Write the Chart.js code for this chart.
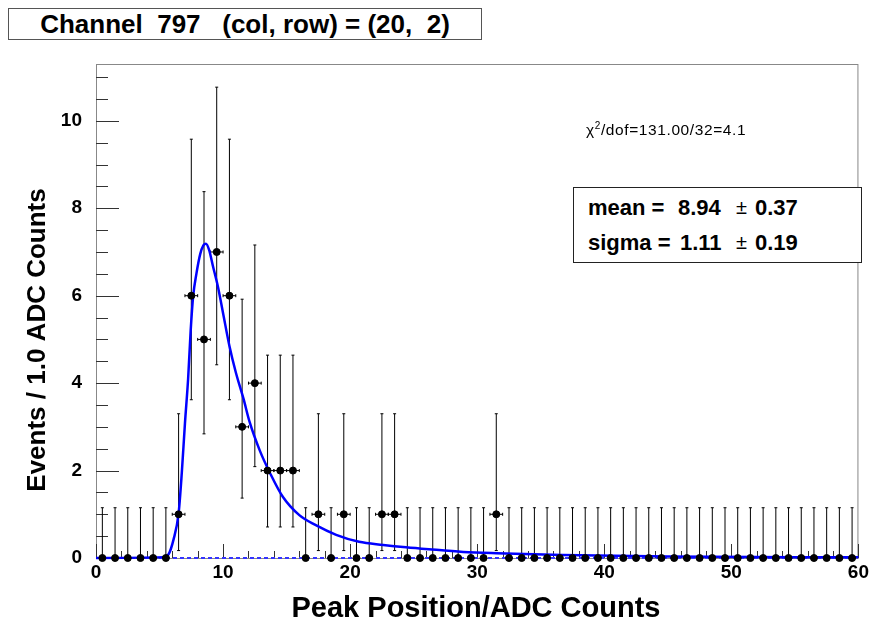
<!DOCTYPE html>
<html lang="en">
<head>
<meta charset="UTF-8">
<title>Channel 797</title>
<script src="https://cdn.jsdelivr.net/npm/chart.js"></script>
<style>
    body { margin: 0; background: #fff; font-family: "Liberation Sans", Arial, sans-serif; }
    #wrap { position: relative; width: 872px; height: 623px; }
    #grafico { position: absolute; left: 0; top: 0; }
    .caixa { position: absolute; background: #fff; box-sizing: border-box; white-space: pre; color: #000; }
    #titulo { left: 8px; top: 8px; width: 474px; height: 32px; border: 1px solid #555;
        font-weight: bold; font-size: 26px; line-height: 30px; text-align: center; }
    #chi { left: 586px; top: 120px; font-size: 15.5px; letter-spacing: 0.6px; background: transparent; }
    #chi sup { font-size: 10px; }
    #stats { left: 573px; top: 187px; width: 289px; height: 76px; border: 1px solid #222;
        font-weight: bold; font-size: 22px; padding-top: 2px; white-space: normal; }
    .lin { position: relative; height: 35px; line-height: 35px; }
    .lin span { position: absolute; top: 0; white-space: pre; }
    .lin .pm { font-weight: normal; font-size: 20px; }
</style>
</head>
<body>
<div id="wrap">
    <canvas id="grafico" width="872" height="623"></canvas>
    <div class="caixa" id="titulo">Channel  797   (col, row) = (20,  2)</div>
    <div class="caixa" id="chi">&chi;<sup>2</sup>/dof=131.00/32=4.1</div>
    <div class="caixa" id="stats">
        <div class="lin"><span style="left:14px">mean =</span><span style="left:104px">8.94</span><span class="pm" style="left:162px">&plusmn;</span><span style="left:181px">0.37</span></div>
        <div class="lin"><span style="left:14px">sigma =</span><span style="left:106px">1.11</span><span class="pm" style="left:162px">&plusmn;</span><span style="left:181px">0.19</span></div>
    </div>
</div>

<script>
    // bin centres (1 ADC count wide) and counts
    const binCentres = [];
    for (let i = 0; i < 60; i++) binCentres.push(i + 0.5);
    const counts = [
        0, 0, 0, 0, 0, 0, 1, 6, 5, 7,
        6, 3, 4, 2, 2, 2, 0, 1, 0, 1,
        0, 0, 1, 1, 0, 0, 0, 0, 0, 0,
        0, 1, 0, 0, 0, 0, 0, 0, 0, 0,
        0, 0, 0, 0, 0, 0, 0, 0, 0, 0,
        0, 0, 0, 0, 0, 0, 0, 0, 0, 0
    ];
    // asymmetric poisson errors, indexed by count
    const errLow  = [0, 0.83, 1.29, 1.63, 1.91, 2.16, 2.38, 2.58];
    const errHigh = [1.15, 2.30, 2.64, 2.92, 3.16, 3.38, 3.58, 3.77];

    // fit curve
    const fitX = [0, 5.3, 5.7, 6.1, 6.5, 6.75, 7.0, 7.25, 7.45, 7.65, 7.9, 8.2, 8.45, 8.65, 8.9, 9.2, 9.6, 10.0,
        10.5, 11.0, 11.6, 12.1, 12.9, 13.7, 14.7, 16.0, 17.3, 18.9, 20.7, 22.6, 24.4, 26.2, 28.9, 31.5, 36.7, 45, 60];
    const fitY = [0, 0.02, 0.08, 0.42, 1.02, 1.94, 3.08, 4.1, 5.2, 6.0, 6.5, 6.95, 7.15, 7.19, 7.05, 6.68, 6.2, 5.6,
        4.85, 4.25, 3.65, 3.1, 2.45, 1.94, 1.4, 0.98, 0.75, 0.53, 0.37, 0.3, 0.245, 0.2, 0.14, 0.11, 0.07, 0.035, 0.015];

    // dashed background component
    const bgX = [0, 60];
    const bgY = [0, 0];

    const xTicks = [0, 10, 20, 30, 40, 50, 60];
    const yTicks = [0, 2, 4, 6, 8, 10];

    const fonte = '"Liberation Sans", Arial, sans-serif';

    const pontos = binCentres.map((x, i) => ({ x: x, y: counts[i] }));
    const curva = fitX.map((x, i) => ({ x: x, y: fitY[i] }));
    const fundo = bgX.map((x, i) => ({ x: x, y: bgY[i] }));

    // frame, inward ticks, error bars and axis titles
    const rootPlugin = {
        id: 'rootStyle',
        beforeDatasetsDraw(chart) {
            const c = chart.ctx, a = chart.chartArea, sx = chart.scales.x, sy = chart.scales.y;
            c.save();
            c.strokeStyle = '#888';
            c.lineWidth = 1;
            c.strokeRect(a.left + 0.5, a.top + 0.5, a.right - a.left - 1, a.bottom - a.top);
            c.strokeStyle = '#333';
            c.beginPath();
            for (let v = 0; v <= 60; v += 2) {
                const px = Math.round(sx.getPixelForValue(v)) + 0.5;
                const len = v % 10 === 0 ? 14 : 7;
                c.moveTo(px, a.bottom); c.lineTo(px, a.bottom - len);
            }
            for (let v = 0; v <= 11.01; v += 0.5) {
                const py = Math.round(sy.getPixelForValue(v)) + 0.5;
                const len = v % 2 === 0 ? 23 : 12;
                c.moveTo(a.left, py); c.lineTo(a.left + len, py);
            }
            c.stroke();

            c.strokeStyle = '#000';
            binCentres.forEach((x, i) => {
                const n = counts[i];
                const px = sx.getPixelForValue(x);
                const yLo = sy.getPixelForValue(n - errLow[n]);
                const yHi = sy.getPixelForValue(n + errHigh[n]);
                const py = sy.getPixelForValue(n);
                const xl = sx.getPixelForValue(x - 0.5), xr = sx.getPixelForValue(x + 0.5);
                c.beginPath();
                c.moveTo(px, yLo); c.lineTo(px, yHi);
                c.moveTo(px - 1.5, yHi); c.lineTo(px + 1.5, yHi);
                if (n > 0) {
                    c.moveTo(px - 1.5, yLo); c.lineTo(px + 1.5, yLo);
                    c.moveTo(xl, py); c.lineTo(xr, py);
                    c.moveTo(xl, py - 1.5); c.lineTo(xl, py + 1.5);
                    c.moveTo(xr, py - 1.5); c.lineTo(xr, py + 1.5);
                }
                c.stroke();
            });
            c.restore();
        },
        afterDraw(chart) {
            const c = chart.ctx;
            c.save();
            c.fillStyle = '#000';
            c.font = 'bold 29px ' + fonte;
            c.textAlign = 'center';
            c.textBaseline = 'alphabetic';
            c.fillText('Peak Position/ADC Counts', 476, 617);
            c.translate(45, 340);
            c.rotate(-Math.PI / 2);
            c.font = 'bold 26px ' + fonte;
            c.fillText('Events / 1.0 ADC Counts', 0, 0);
            c.restore();
        }
    };

    const ctx = document.getElementById('grafico').getContext('2d');

    const grafico = new Chart(ctx, {
        type: 'scatter',
        data: {
            datasets: [{
                label: 'dados',
                data: pontos,
                backgroundColor: '#000',
                borderColor: '#000',
                pointRadius: 3.5,
                pointHoverRadius: 3.5,
                clip: false,
                order: 0
            }, {
                label: 'ajuste',
                type: 'line',
                data: curva,
                borderColor: '#0000ff',
                borderWidth: 2.5,
                pointRadius: 0,
                fill: false,
                clip: false,
                cubicInterpolationMode: 'monotone',
                order: 1
            }, {
                label: 'fundo',
                type: 'line',
                data: fundo,
                borderColor: '#3333ff',
                borderWidth: 2,
                borderDash: [4, 3],
                pointRadius: 0,
                fill: false,
                clip: false,
                order: 2
            }]
        },
        options: {
            responsive: false,
            animation: false,
            events: [],
            layout: { padding: { left: 0, top: 64, right: 11, bottom: 0 } },
            plugins: {
                legend: { display: false },
                title: { display: false },
                tooltip: { enabled: false }
            },
            scales: {
                x: {
                    type: 'linear',
                    min: 0,
                    max: 60,
                    afterBuildTicks: (s) => { s.ticks = xTicks.map(v => ({ value: v })); },
                    afterFit: (s) => { s.height = 65; },
                    grid: { display: false, drawTicks: false },
                    border: { display: false },
                    ticks: {
                        color: '#000',
                        padding: 3,
                        maxRotation: 0,
                        font: { family: fonte, size: 19, weight: 'bold' }
                    }
                },
                y: {
                    type: 'linear',
                    min: 0,
                    max: 11.3,
                    afterBuildTicks: (s) => { s.ticks = yTicks.map(v => ({ value: v })); },
                    afterFit: (s) => { s.width = 96; },
                    grid: { display: false, drawTicks: false },
                    border: { display: false },
                    ticks: {
                        color: '#000',
                        padding: 14,
                        font: { family: fonte, size: 19, weight: 'bold' }
                    }
                }
            }
        },
        plugins: [rootPlugin]
    });
</script>
</body>
</html>
